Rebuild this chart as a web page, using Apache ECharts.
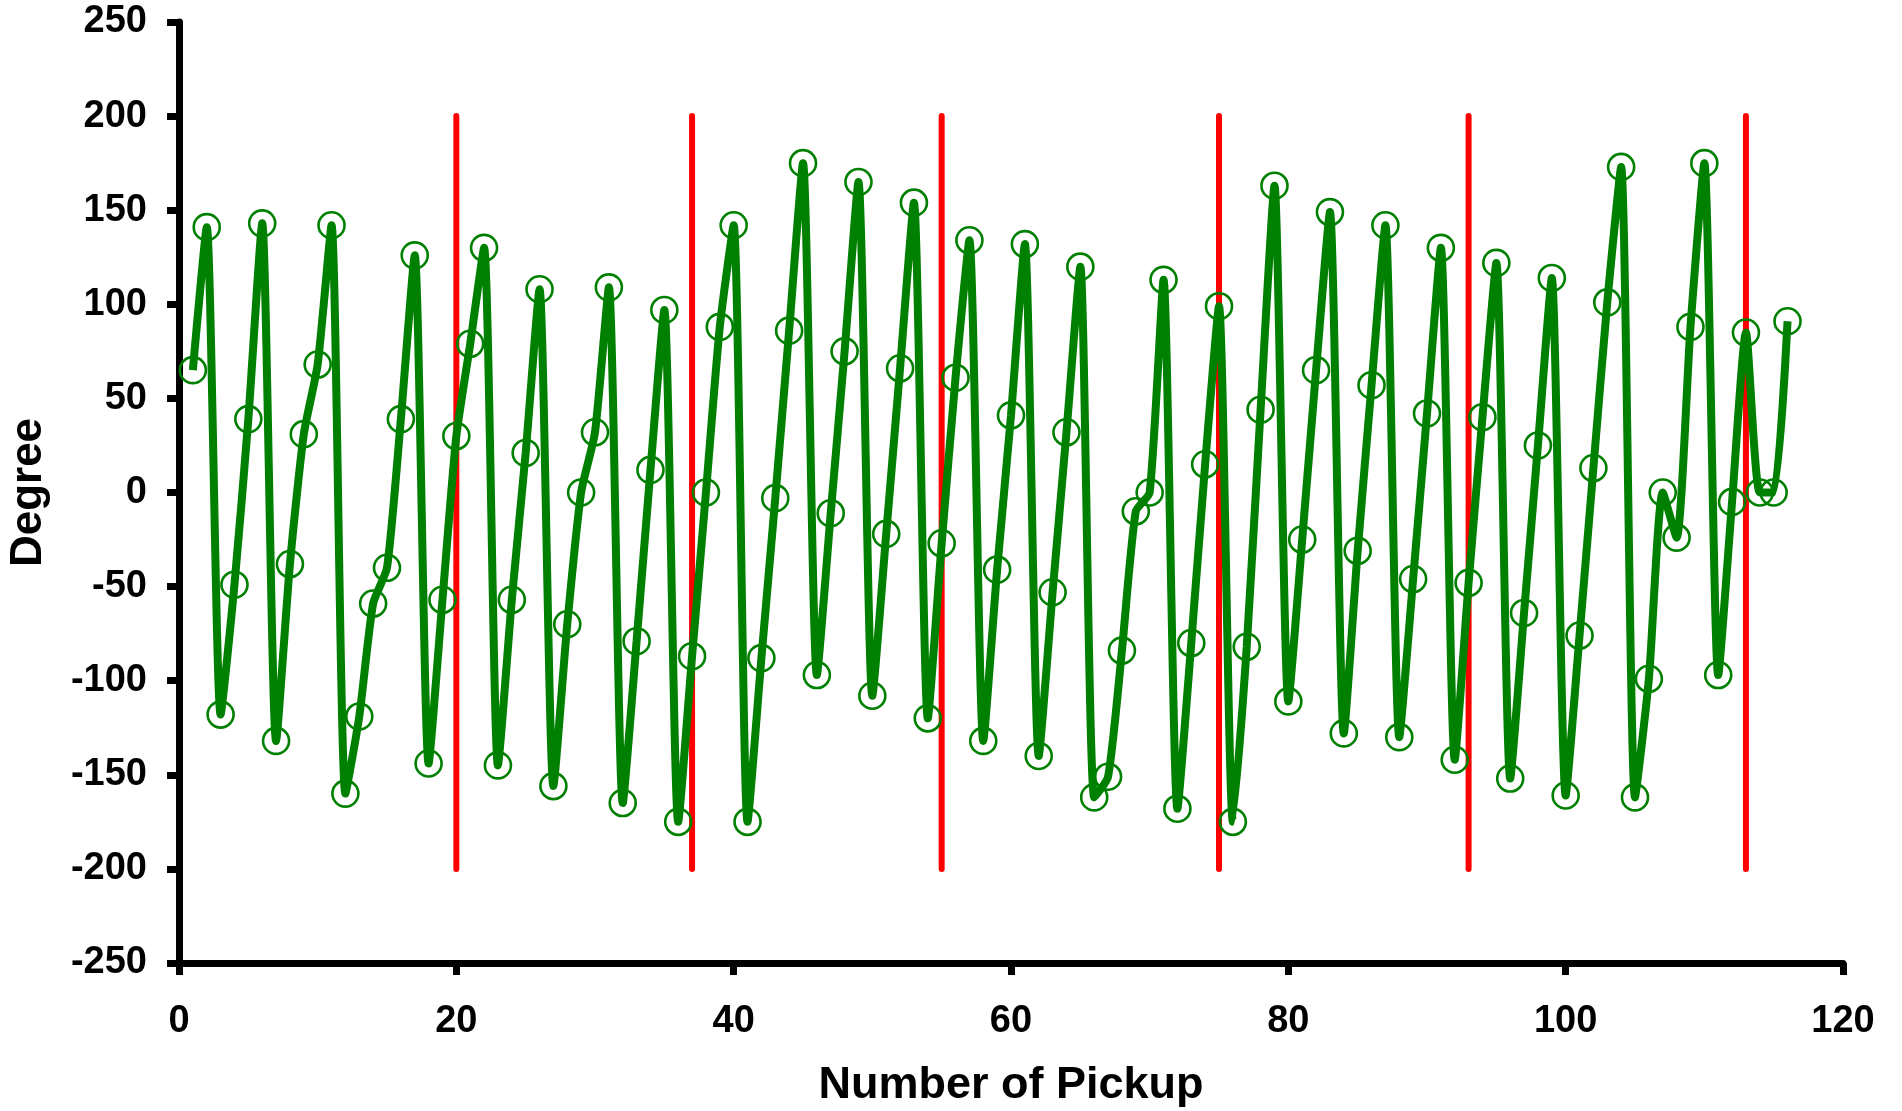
<!DOCTYPE html>
<html>
<head>
<meta charset="utf-8">
<script src="https://cdn.jsdelivr.net/npm/echarts@6/dist/echarts.min.js"></script>
<style>
  html, body { margin: 0; padding: 0; background: #fff; }
  #chart { width: 1902px; height: 1111px; }
</style>
</head>
<body>
<div id="chart"></div>
<script>
// pickup number 1..116 and measured angle
var pickupNo = [];
for (var i = 1; i <= 116; i++) pickupNo.push(i);
var degree = [
  65, 141, -118, -49, 39, 143, -132, -38, 31, 68,
  142, -160, -119, -59, -40, 39, 126, -144, -57, 30,
  79, 130, -145, -57, 21, 108, -156, -70, 0, 32,
  109, -165, -79, 12, 97, -175, -87, 0, 88, 142,
  -175, -88, -3, 86, 175, -97, -11, 75, 165, -108,
  -22, 66, 154, -120, -27, 61, 134, -132, -41, 41,
  132, -140, -53, 32, 120, -162, -151, -84, -10, 0,
  113, -168, -80, 15, 99, -175, -82, 44, 163, -111,
  -25, 65, 149, -128, -31, 57, 142, -130, -46, 42,
  130, -142, -48, 40, 122, -152, -64, 25, 114, -161,
  -76, 13, 101, 173, -162, -99, 0, -24, 88, 175,
  -97, -5, 85, 0, 0, 91
];
// red separator lines
var sepX = [20, 37, 55, 75, 93, 113];
var sepRange = [-200, 200];

var font = "'Liberation Sans', Arial, sans-serif";
var chart = echarts.init(document.getElementById("chart"));

var series = [];
sepX.forEach(function (x) {
  series.push({
    type: "line",
    data: [[x, sepRange[0]], [x, sepRange[1]]],
    symbol: "none",
    silent: true,
    lineStyle: { color: "#ff0000", width: 6, cap: "round" },
    z: 2
  });
});
series.push({
  name: "Degree",
  type: "line",
  data: pickupNo.map(function (x, i) { return [x, degree[i]]; }),
  smooth: 0.2,
  symbol: "circle",
  symbolSize: 26,
  itemStyle: { color: "rgba(0,0,0,0)", borderColor: "#008000", borderWidth: 2.6 },
  lineStyle: { color: "#008000", width: 8 },
  z: 3
});

chart.setOption({
  animation: false,
  backgroundColor: "#fff",
  grid: { left: 179, right: 59, top: 22, bottom: 148, containLabel: false, outerBoundsMode: "none" },
  xAxis: {
    type: "value",
    min: 0,
    max: 120,
    interval: 20,
    name: "Number of Pickup",
    nameLocation: "middle",
    nameGap: 100,
    nameTextStyle: { color: "#000", fontSize: 45, fontWeight: "bold", fontFamily: font },
    axisLine: { show: true, onZero: false, lineStyle: { color: "#000", width: 7 } },
    axisTick: { show: true, length: 12, lineStyle: { color: "#000", width: 7 } },
    axisLabel: { color: "#000", fontSize: 38, fontWeight: "bold", fontFamily: font, margin: 40 },
    splitLine: { show: false }
  },
  yAxis: {
    type: "value",
    min: -250,
    max: 250,
    interval: 50,
    name: "Degree",
    nameLocation: "middle",
    nameGap: 128,
    nameTextStyle: { color: "#000", fontSize: 44, fontWeight: "bold", fontFamily: font },
    axisLine: { show: true, onZero: false, lineStyle: { color: "#000", width: 7 } },
    axisTick: { show: true, length: 12, lineStyle: { color: "#000", width: 7 } },
    axisLabel: { color: "#000", fontSize: 38, fontWeight: "bold", fontFamily: font, margin: 32 },
    splitLine: { show: false }
  },
  series: series
});
</script>
</body>
</html>
